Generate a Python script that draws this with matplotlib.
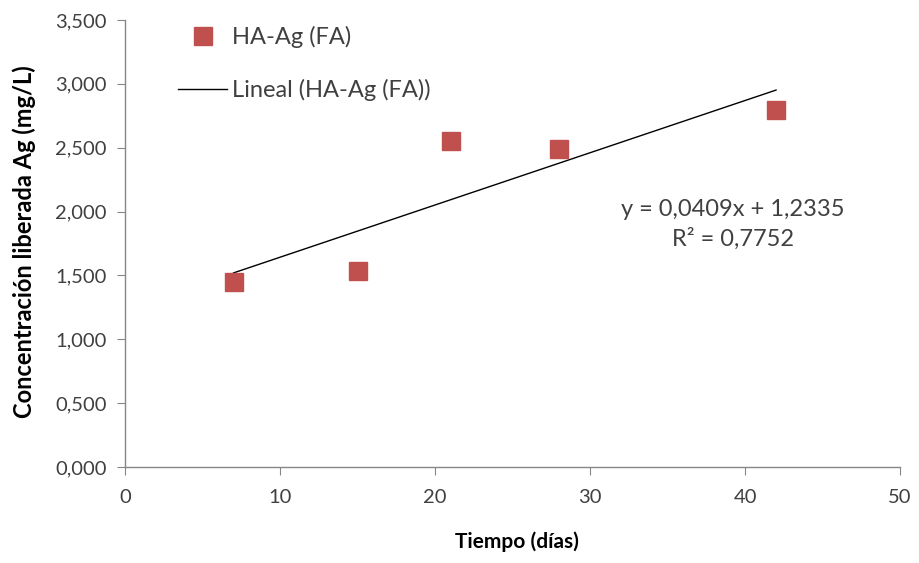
import matplotlib
matplotlib.use("Agg")
from matplotlib import pyplot as plt
from matplotlib.ticker import FuncFormatter

plt.rcParams['font.family'] = ['Lato', 'DejaVu Sans']

# datos
dias = [7, 15, 21, 28, 42]
concentracion = [1.449, 1.535, 2.553, 2.49, 2.795]
pendiente = 0.0409
intercepto = 1.2335
ecuacion = "y = 0,0409x + 1,2335\nR² = 0,7752"

x_ticks = [0, 10, 20, 30, 40, 50]
y_ticks = [0, 0.5, 1.0, 1.5, 2.0, 2.5, 3.0, 3.5]

rojo = '#c0504d'
gris = '#404040'

fig = plt.figure(figsize=(9.2, 5.63), dpi=100)
ax = fig.add_axes([0.1359, 0.1705, 0.8424, 0.794])

ax.plot(dias, concentracion, 's', color=rojo, markersize=13.5,
        label='HA-Ag (FA)', zorder=3)

x_fit = [min(dias), max(dias)]
y_fit = [pendiente * x + intercepto for x in x_fit]
ax.plot(x_fit, y_fit, '-', color='black', linewidth=1.0,
        label='Lineal (HA-Ag (FA))', zorder=2)

ax.set_xlim(0, 50)
ax.set_ylim(0, 3.5)
ax.set_xticks(x_ticks)
ax.set_yticks(y_ticks)
ax.yaxis.set_major_formatter(FuncFormatter(lambda v, p: f"{v:.3f}".replace('.', ',')))

for s in ['top', 'right']:
    ax.spines[s].set_visible(False)
for s in ['left', 'bottom']:
    ax.spines[s].set_color('#868686')
    ax.spines[s].set_linewidth(1.0)
ax.tick_params(direction='out', length=6, color='#868686', labelsize=14.5,
               labelcolor=gris)
ax.tick_params(axis='y', pad=7)
ax.tick_params(axis='x', pad=10)

ax.set_xlabel('Tiempo (días)', fontsize=15, fontweight='bold')
ax.set_ylabel('Concentración liberada Ag (mg/L)', fontsize=17,
              fontweight='bold')
ax.xaxis.set_label_coords(0.506, -0.145)
ax.yaxis.set_label_coords(-0.115, 0.505)

ax.text(39.2, 1.90, ecuacion, ha='center', va='center', fontsize=17,
        color=gris, linespacing=1.4)

leg = ax.legend(loc='upper left', bbox_to_anchor=(0.053, 1.013), frameon=False,
                borderpad=0, fontsize=17, labelspacing=1.3, handlelength=2.1,
                handletextpad=0.2, labelcolor=gris)
leg.set_clip_on(False)

fig.savefig('out.png', dpi=100)
